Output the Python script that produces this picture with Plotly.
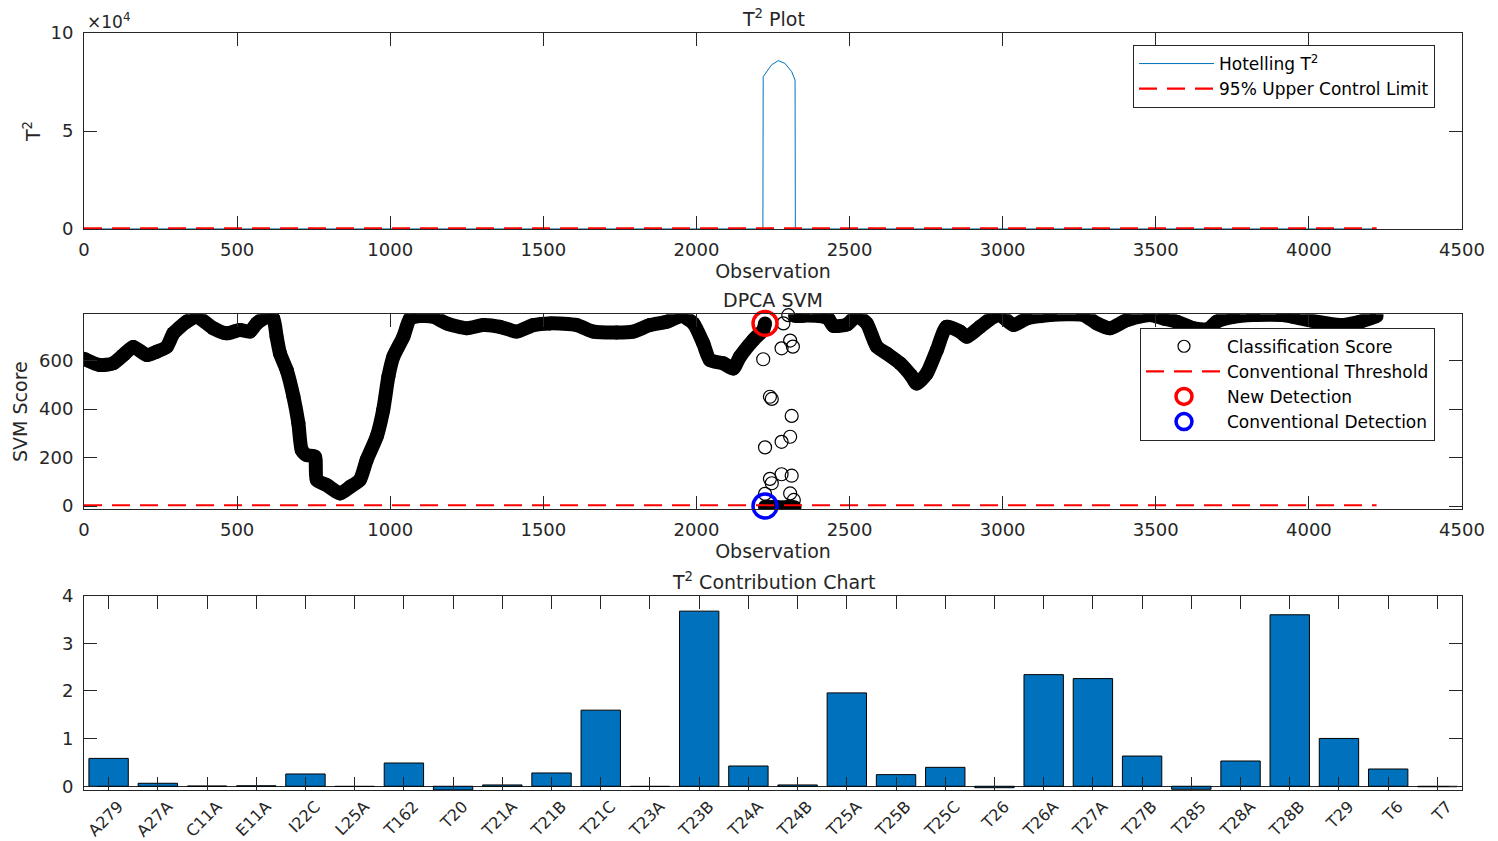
import plotly.graph_objects as go

FONT = "DejaVu Sans"
AX = "#262626"
W, H = 1498, 841

# ---------------- data ----------------
# T^2 statistic
t2_obs = [0, 500, 1000, 1500, 2000, 2217, 2218, 2229, 2245, 2267, 2289, 2311, 2322, 2323, 2500, 3000, 3500, 4000, 4221]
t2_val = [40, 40, 40, 40, 40, 40, 77700, 80300, 83700, 85900, 84500, 80300, 76000, 40, 40, 40, 40, 40, 40]
ucl_obs = [0, 4221]
ucl_val = [300, 300]

# SVM classification score – dense band, three segments
seg1_obs = [0, 52, 95, 128, 161, 205, 237, 270, 292, 335, 368, 422, 466, 509, 542, 564, 597, 618, 629,
            640, 662, 684, 700, 711, 727, 754, 760, 793, 836, 869, 901, 923, 956, 977, 994, 1010, 1043,
            1065, 1097, 1141, 1184, 1250, 1304, 1358, 1413, 1467, 1522, 1609, 1663, 1739, 1794, 1848,
            1903, 1952, 1990, 2022, 2044, 2088, 2120, 2142, 2186, 2218, 2224]
seg1_val = [608, 582, 589, 623, 657, 623, 637, 657, 713, 761, 782, 734, 713, 727, 720, 754, 781, 775, 699,
            630, 561, 451, 342, 231, 210, 204, 108, 86, 52, 79, 108, 190, 287, 396, 534, 616, 699,
            775, 784, 781, 754, 734, 747, 740, 720, 747, 754, 747, 720, 716, 720, 747,
            761, 784, 754, 672, 603, 589, 568, 616, 686, 727, 754]
seg2_obs = [2224, 2240, 2260, 2280, 2300, 2320]
seg2_val = [-3, -5, -4, -6, -4, -5]
seg3_obs = [2322, 2350, 2400, 2430, 2447, 2491, 2523, 2556, 2589, 2621, 2665, 2700, 2719, 2752, 2785,
            2817, 2861, 2883, 2926, 2970, 2991, 3035, 3078, 3155, 3263, 3307, 3351, 3405, 3481, 3525,
            3568, 3620, 3670, 3699, 3753, 3818, 3916, 3949, 4025, 4102, 4167, 4221]
seg3_val = [784, 786, 784, 775, 744, 749, 784, 754, 658, 630, 589, 540, 506, 547, 644,
            740, 720, 699, 740, 781, 788, 747, 774, 789, 789, 754, 734, 767, 789, 774,
            761, 735, 730, 761, 781, 789, 789, 781, 761, 747, 761, 784]
# isolated transition points
out_obs = [2218, 2284, 2300, 2278, 2306, 2315, 2240, 2246, 2311, 2224, 2278, 2306, 2278, 2311, 2240, 2246, 2224, 2306, 2318]
out_val = [606, 754, 788, 651, 683, 658, 451, 442, 372, 242, 265, 286, 131, 125, 112, 94, 50, 52, 25]
thr_obs = [0, 4221]
thr_val = [3, 3]
new_det_obs, new_det_val = [2224], [754]
conv_det_obs, conv_det_val = [2224], [0]

# T^2 contributions
cats = ["A279", "A27A", "C11A", "E11A", "I22C", "L25A", "T162", "T20", "T21A", "T21B", "T21C", "T23A",
        "T23B", "T24A", "T24B", "T25A", "T25B", "T25C", "T26", "T26A", "T27A", "T27B", "T285", "T28A",
        "T28B", "T29", "T6", "T7"]
contrib = [0.585, 0.063, 0.005, 0.01, 0.258, -0.005, 0.488, -0.077, 0.028, 0.279, 1.596, -0.005,
           3.672, 0.425, 0.028, 1.958, 0.244, 0.397, -0.03, 2.341, 2.258, 0.634, -0.063, 0.53,
           3.596, 1.003, 0.362, -0.01]

# ---------------- figure ----------------
fig = go.Figure()

# top
fig.add_trace(go.Scatter(x=t2_obs, y=t2_val, mode="lines", line=dict(color="#0072BD", width=1),
                         name="Hotelling T<sup>2</sup>", xaxis="x", yaxis="y", legend="legend"))
fig.add_trace(go.Scatter(x=ucl_obs, y=ucl_val, mode="lines", line=dict(color="#FF0000", width=2.2, dash="18px,10px"),
                         name="95% Upper Control Limit", xaxis="x", yaxis="y", legend="legend"))

# middle
band_x = seg1_obs + [None] + seg2_obs + [None] + seg3_obs
band_y = seg1_val + [None] + seg2_val + [None] + seg3_val
fig.add_trace(go.Scatter(x=band_x, y=band_y, mode="lines+markers",
                         line=dict(color="black", width=14, shape="spline", smoothing=0.6),
                         marker=dict(symbol="circle", size=14, color="black"),
                         connectgaps=False, showlegend=False, xaxis="x2", yaxis="y2"))
fig.add_trace(go.Scatter(x=out_obs, y=out_val, mode="markers", cliponaxis=False,
                         marker=dict(symbol="circle-open", size=13, color="black", line=dict(width=1.2, color="black")),
                         showlegend=False, xaxis="x2", yaxis="y2"))
fig.add_trace(go.Scatter(x=[None], y=[None], mode="markers",
                         marker=dict(symbol="circle-open", size=12, color="black", line=dict(width=1.2, color="black")),
                         name="Classification Score", xaxis="x2", yaxis="y2", legend="legend2"))
fig.add_trace(go.Scatter(x=thr_obs, y=thr_val, mode="lines", line=dict(color="#FF0000", width=2.2, dash="18px,10px"),
                         name="Conventional Threshold", xaxis="x2", yaxis="y2", legend="legend2"))
fig.add_trace(go.Scatter(x=new_det_obs, y=new_det_val, mode="markers", cliponaxis=False,
                         marker=dict(symbol="circle-open", size=24, color="#FF0000", line=dict(width=3.5, color="#FF0000")),
                         name="New Detection", xaxis="x2", yaxis="y2", legend="legend2"))
fig.add_trace(go.Scatter(x=conv_det_obs, y=conv_det_val, mode="markers", cliponaxis=False,
                         marker=dict(symbol="circle-open", size=24, color="#0000FF", line=dict(width=3.5, color="#0000FF")),
                         name="Conventional Detection", xaxis="x2", yaxis="y2", legend="legend2"))

# bottom
fig.add_trace(go.Bar(x=cats, y=contrib, width=0.8, marker=dict(color="#0072BD", line=dict(color="black", width=1)),
                     showlegend=False, xaxis="x3", yaxis="y3"))

xd = [84 / W, 1462 / W]
def py(p):
    return 1 - p / H

common = dict(showline=True, linecolor=AX, linewidth=1, mirror="ticks", ticks="inside", ticklen=13,
              tickcolor=AX, tickwidth=1, showgrid=False, automargin=False,
              tickfont=dict(family=FONT, size=18, color=AX))
title_font = dict(family=FONT, size=19, color=AX)

fig.update_layout(
    width=W, height=H, margin=dict(l=0, r=0, t=0, b=0, autoexpand=False), paper_bgcolor="white",
    plot_bgcolor="white", font=dict(family=FONT, color=AX),
    xaxis=dict(domain=xd, anchor="y", range=[0, 4500], dtick=500, tick0=0, zeroline=False,
               title=dict(text="Observation", font=title_font, standoff=6), ticklabelstandoff=4, **common),
    yaxis=dict(domain=[py(229), py(33)], anchor="x", range=[0, 100000], tickvals=[0, 50000, 100000],
               ticktext=["0", "5", "10"], zeroline=False,
               title=dict(text="T<sup>2</sup>", font=title_font, standoff=4),
               ticklabelstandoff=6, **common),
    xaxis2=dict(domain=xd, anchor="y2", range=[0, 4500], dtick=500, tick0=0, zeroline=False,
                title=dict(text="Observation", font=title_font, standoff=6), ticklabelstandoff=4, **common),
    yaxis2=dict(domain=[py(509), py(314.3)], anchor="x2", range=[-12.4, 791.5], tickvals=[0, 200, 400, 600],
                zeroline=False, title=dict(text="SVM Score", font=title_font, standoff=6),
                ticklabelstandoff=6, **common),
    xaxis3=dict(domain=xd, anchor="y3", type="category", range=[-0.5, 27.5], tickangle=-45, zeroline=False,
                **{k: v for k, v in common.items() if k != "tickfont"},
                tickfont=dict(family=FONT, size=16, color=AX), ticklabelstandoff=0, ticklabelshift=10),
    yaxis3=dict(domain=[py(790), py(595.5)], anchor="x3", range=[-0.078, 4], tickvals=[0, 1, 2, 3, 4],
                ticklabelstandoff=6, **common,
                zeroline=True, zerolinecolor=AX, zerolinewidth=1),
    legend=dict(x=1133 / W, y=py(45), xanchor="left", yanchor="top", bgcolor="white", bordercolor=AX,
                borderwidth=1, font=dict(family=FONT, size=17, color="black"), itemwidth=75,
                tracegroupgap=0),
    legend2=dict(x=1140 / W, y=py(327.7), xanchor="left", yanchor="top", bgcolor="white", bordercolor=AX,
                 borderwidth=1, font=dict(family=FONT, size=17, color="black"), itemwidth=76,
                 tracegroupgap=0),
    bargap=0.2,
)

fig.add_annotation(text="T<sup>2</sup> Plot", x=773 / W, y=py(18), xref="paper", yref="paper",
                   showarrow=False, font=title_font, xanchor="center", yanchor="middle")
fig.add_annotation(text="DPCA SVM", x=773 / W, y=py(300), xref="paper", yref="paper",
                   showarrow=False, font=title_font, xanchor="center", yanchor="middle")
fig.add_annotation(text="T<sup>2</sup> Contribution Chart", x=773 / W, y=py(581), xref="paper", yref="paper",
                   showarrow=False, font=title_font, xanchor="center", yanchor="middle")
fig.add_annotation(text="×10<sup>4</sup>", x=85 / W, y=py(21), xref="paper", yref="paper",
                   showarrow=False, font=dict(family=FONT, size=17, color=AX), xanchor="left", yanchor="middle")

fig.write_html("out.html")
